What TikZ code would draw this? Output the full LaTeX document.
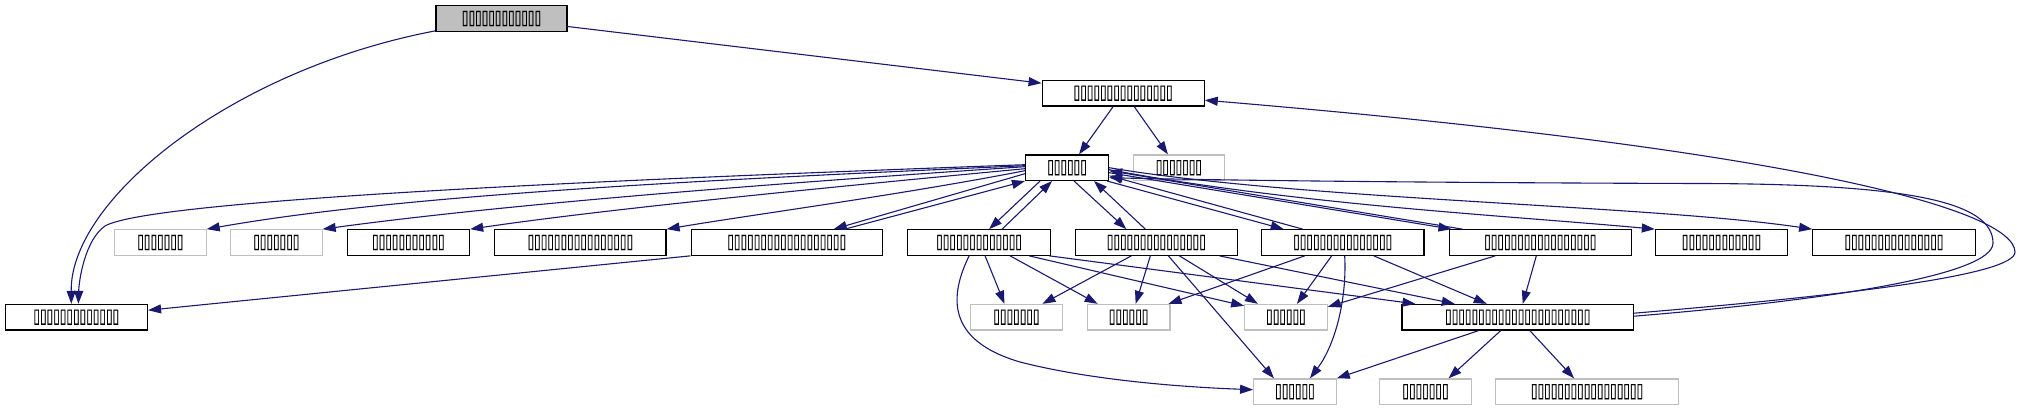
\documentclass[tikz,border=0pt]{standalone}
\usepackage{fontspec}
\newfontfamily\tofu[FakeStretch=0.6,FakeBold=0.5]{DejaVu Sans}
\usetikzlibrary{arrows.meta,calc}
\definecolor{edgec}{HTML}{191970}
\definecolor{grayfill}{HTML}{BFBFBF}
\definecolor{grayline}{HTML}{BFBFBF}
\begin{document}
\begin{tikzpicture}[x=1pt,y=-1pt,
 base/.style={rectangle, inner sep=0pt, minimum height=25.5pt, font=\tofu\fontsize{20}{20}\selectfont, line width=1.2pt, fill=white},
 blk/.style={base, draw=black},
 gry/.style={base, draw=grayline},
 topn/.style={base, draw=black, fill=grayfill},
 e/.style={draw=edgec, line width=1.1pt, -{Triangle[length=13pt,width=9pt]}}
]
\useasboundingbox (0,0) rectangle (2021,411);
% row 0/1/2
\node[topn, minimum width=131pt] (top) at (501.5,18.5) {▯▯▯▯▯▯▯▯▯▯▯▯};
\node[blk, minimum width=162pt] (N1) at (1123.15,93.2) {▯▯▯▯▯▯▯▯▯▯▯▯▯▯▯};
\node[blk, minimum width=83pt] (M) at (1067.05,167.7) {▯▯▯▯▯▯};
\node[gry, minimum width=91.6pt] (M2) at (1178.9,167.7) {▯▯▯▯▯▯▯};
% row 3
\node[gry, minimum width=91.4pt] (A1) at (160.4,242.5) {▯▯▯▯▯▯▯};
\node[gry, minimum width=91.5pt] (A2) at (276.35,242.5) {▯▯▯▯▯▯▯};
\node[blk, minimum width=122.4pt] (A3) at (408.4,242.5) {▯▯▯▯▯▯▯▯▯▯▯};
\node[blk, minimum width=171.3pt] (A4) at (580.35,242.5) {▯▯▯▯▯▯▯▯▯▯▯▯▯▯▯▯};
\node[blk, minimum width=191.3pt] (A5) at (786.75,242.5) {▯▯▯▯▯▯▯▯▯▯▯▯▯▯▯▯▯▯};
\node[blk, minimum width=143pt] (A6) at (979.1,242.5) {▯▯▯▯▯▯▯▯▯▯▯▯▯};
\node[blk, minimum width=162.5pt] (A7) at (1156.35,242.5) {▯▯▯▯▯▯▯▯▯▯▯▯▯▯▯};
\node[blk, minimum width=162.4pt] (A8) at (1342.7,242.5) {▯▯▯▯▯▯▯▯▯▯▯▯▯▯▯};
\node[blk, minimum width=182.4pt] (A9) at (1540.3,242.5) {▯▯▯▯▯▯▯▯▯▯▯▯▯▯▯▯▯};
\node[blk, minimum width=132.2pt] (A10) at (1721.5,242.5) {▯▯▯▯▯▯▯▯▯▯▯▯};
\node[blk, minimum width=162.5pt] (A11) at (1893.95,242.5) {▯▯▯▯▯▯▯▯▯▯▯▯▯▯▯};
% row 4
\node[blk, minimum width=142.3pt] (B1) at (76.35,317.2) {▯▯▯▯▯▯▯▯▯▯▯▯▯};
\node[gry, minimum width=91.5pt] (C1) at (1016.45,317.2) {▯▯▯▯▯▯▯};
\node[gry, minimum width=82.5pt] (C2) at (1128.65,317.2) {▯▯▯▯▯▯};
\node[gry, minimum width=82.5pt] (C3) at (1285.95,317.2) {▯▯▯▯▯▯};
\node[blk, minimum width=231.5pt] (C4) at (1517.75,317.2) {▯▯▯▯▯▯▯▯▯▯▯▯▯▯▯▯▯▯▯▯▯▯};
% row 5
\node[gry, minimum width=82.5pt] (D1) at (1294.95,391.7) {▯▯▯▯▯▯};
\node[gry, minimum width=92.2pt] (D2) at (1425.5,391.7) {▯▯▯▯▯▯▯};
\node[gry, minimum width=183.1pt] (D3) at (1587.05,391.7) {▯▯▯▯▯▯▯▯▯▯▯▯▯▯▯▯▯};

% edges from top
\draw[e] ($(top.south west)+(0,-1)$) .. controls (230,70) and (70,200) .. ($(B1.north)+(-5,0)$);
\draw[e] ($(top.east)+(0,8)$) -- ($(N1.west)+(0,-10)$);
% N1
\draw[e] ($(N1.south)+(-10,0)$) -- ($(M.north)+(12,0)$);
\draw[e] ($(N1.south)+(11,0)$) -- ($(M2.north)+(-11,0)$);
% C4 loops
\draw[e] ($(C4.east)+(0,-4)$) .. controls (1850,295) and (2015,275) .. (2015,252) .. controls (2014,210) and (1800,150) .. ($(N1.east)+(0,7)$);
\draw[e] ($(C4.east)+(0,-1)$) .. controls (1830,300) and (1993,275) .. (1993,243) .. controls (1993,200) and (1900,184) .. (1700,183.5) .. controls (1500,183) and (1250,181) .. ($(M.east)+(0,10)$);
% M fan left
\draw[e] ($(M.west)+(0,-3)$) .. controls (600,180) and (150,200) .. (105,226) .. controls (85,240) and (79,280) .. ($(B1.north)+(2,0)$);
\draw[e] ($(M.west)+(0,-2)$) .. controls (700,180) and (400,195) .. (A1.north east);
\draw[e] ($(M.west)+(0,-1)$) .. controls (750,185) and (500,205) .. (A2.north east);
\draw[e] ($(M.west)+(0,1)$) .. controls (800,190) and (600,210) .. (A3.north east);
\draw[e] ($(M.west)+(0,3)$) .. controls (900,195) and (750,215) .. (A4.north east);
\draw[e] ($(M.west)+(0,6)$) -- ($(A5.north)+(47,0)$);
\draw[e] ($(A5.north)+(58,0)$) -- (M.south west);
% M <-> A6, A7, A8, A9
\draw[e] ($(M.south)+(-27,0)$) -- ($(A6.north)+(10,0)$);
\draw[e] ($(A6.north)+(23,0)$) -- ($(M.south)+(-15,0)$);
\draw[e] ($(M.south)+(7,0)$) -- ($(A7.north)+(-30,0)$);
\draw[e] ($(A7.north)+(-11,0)$) -- ($(M.south)+(27,0)$);
\draw[e] ($(M.south east)+(-2,0)$) -- ($(A8.north)+(-59,0)$);
\draw[e] ($(A8.north)+(-40,0)$) -- ($(M.east)+(0,8)$);
\draw[e] ($(M.east)+(0,5)$) -- ($(A9.north west)+(3,0)$);
\draw[e] ($(A9.north west)+(14,0)$) -- ($(M.east)+(0,3)$);
\draw[e] ($(M.east)+(0,2)$) .. controls (1300,205) and (1500,215) .. (A10.north west);
\draw[e] (M.east) .. controls (1300,200) and (1650,205) .. (A11.north west);
% A5
\draw[e] (A5.south west) -- ($(B1.east)+(0,-7)$);
% A6
\draw[e] ($(A6.south)+(6,0)$) -- ($(C1.north)+(-12,0)$);
\draw[e] ($(A6.south)+(-10,0)$) .. controls (950,295) and (945,340) .. (1020,362) .. controls (1090,380) and (1180,387) .. ($(D1.west)+(0,-2)$);
\draw[e] ($(A6.south)+(31,0)$) -- ($(C2.north)+(-31,0)$);
\draw[e] ($(A6.south)+(50,0)$) -- ($(C3.north west)+(0,2)$);
\draw[e] ($(A6.south east)+(-2,0)$) -- ($(C4.north west)+(14,0)$);
% A7
\draw[e] ($(A7.south)+(-25,0)$) -- ($(C1.north)+(26,0)$);
\draw[e] ($(A7.south)+(-6,0)$) -- ($(C2.north)+(7,0)$);
\draw[e] ($(A7.south)+(12,0)$) -- ($(D1.north)+(-21,0)$);
\draw[e] ($(A7.south)+(23,0)$) -- ($(C3.north)+(-28,0)$);
\draw[e] ($(A7.south)+(63,0)$) -- ($(C4.north)+(-63,0)$);
% A8
\draw[e] ($(A8.south)+(-38,0)$) -- ($(C2.north east)+(-2,0)$);
\draw[e] ($(A8.south)+(-11,0)$) -- ($(C3.north)+(11,0)$);
\draw[e] ($(A8.south)+(2,0)$) .. controls (1347,300) and (1335,345) .. ($(D1.north)+(15,0)$);
\draw[e] ($(A8.south)+(31,0)$) -- ($(C4.north)+(-31,0)$);
% A9
\draw[e] ($(A9.south)+(-45,0)$) -- ($(C3.north east)+(0,3)$);
\draw[e] ($(A9.south)+(-4,0)$) -- ($(C4.north)+(5,0)$);
% C4
\draw[e] ($(C4.south)+(-39,0)$) -- (D1.north east);
\draw[e] ($(C4.south)+(-17,0)$) -- ($(D2.north)+(23,0)$);
\draw[e] ($(C4.south)+(12,0)$) -- ($(D3.north)+(-13,0)$);
\end{tikzpicture}
\end{document}
